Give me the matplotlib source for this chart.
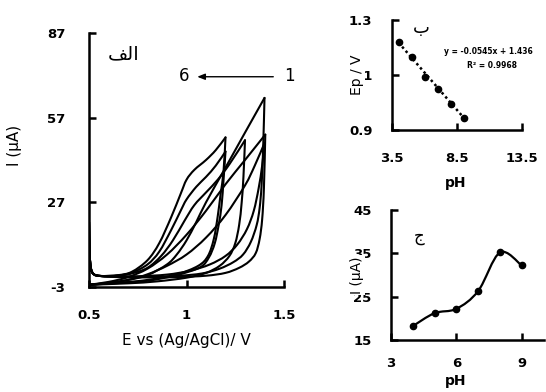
import numpy as np
import matplotlib
matplotlib.use("Agg")
import matplotlib.pyplot as plt
from matplotlib.path import Path
from matplotlib.patches import PathPatch

# ---------------- data ----------------
# common start of the anodic scans (charging spike at 0.5 V)
spike = [(0.5, 20.0), (0.503, 9.0), (0.51, 3.5), (0.525, 1.5), (0.56, 0.9)]

# curve 1 (vertex 1.2 V, 50 uA)
cv1_hump = [(0.65, 1.2), (0.72, 2.4), (0.8, 6.5), (0.86, 12.5), (0.92, 21.5), (0.97, 30.0),
            (1.0, 35.0), (1.04, 38.5), (1.1, 42.0), (1.15, 45.5), (1.2, 50.0)]
cv1_drop = [(1.2, 50.0), (1.19, 38.0), (1.175, 30.0), (1.16, 22.0), (1.14, 14.0), (1.11, 8.0),
            (1.06, 4.5), (0.95, 1.5), (0.8, -0.5), (0.65, -1.5), (0.5, -2.2)]
# curve 2 (vertex 1.2 V, 45 uA)
cv2_hump = [(0.65, 1.1), (0.72, 2.1), (0.8, 5.0), (0.86, 9.5), (0.92, 17.0), (0.97, 24.0),
            (1.0, 28.0), (1.05, 32.5), (1.1, 36.0), (1.15, 40.0), (1.2, 45.0)]
cv2_drop = [(1.2, 45.0), (1.19, 35.0), (1.18, 26.0), (1.165, 19.0), (1.145, 12.5), (1.115, 7.5),
            (1.07, 4.0), (0.95, 1.2), (0.8, -0.8), (0.65, -1.6), (0.5, -2.2)]
# curve 3 (vertex 1.3 V, 49 uA)
cv3_hump = [(0.65, 1.0), (0.72, 1.8), (0.8, 3.8), (0.87, 8.0), (0.93, 13.5), (0.99, 20.5),
            (1.04, 26.0), (1.1, 30.5), (1.16, 35.0), (1.22, 40.5), (1.3, 49.0)]
cv3_drop = [(1.3, 49.0), (1.292, 36.0), (1.283, 27.0), (1.27, 19.0), (1.25, 12.5), (1.22, 8.0),
            (1.17, 4.5), (1.1, 2.0), (1.0, 0.3), (0.85, -1.0), (0.7, -1.7), (0.5, -2.2)]
# curve 4 (vertex 1.4 V, 64 uA)
cv4_steep = [(0.65, 0.7), (0.8, 0.6), (0.95, 0.9), (1.08, 1.8), (1.17, 3.5), (1.24, 5.8), (1.29, 8.5),
             (1.33, 13.0), (1.36, 19.0), (1.375, 25.0), (1.385, 33.0), (1.393, 46.0), (1.4, 64.0)]
cv4_diag = [(1.4, 64.0), (1.3, 51.7), (1.2, 39.3), (1.1, 27.0), (1.05, 20.0), (1.0, 13.5),
            (0.95, 8.5), (0.9, 5.0), (0.8, 1.2), (0.7, -0.5), (0.6, -1.5), (0.5, -2.2)]
# curve 5 (vertex 1.404 V, 51 uA)
cv5_steep = [(0.65, 0.5), (0.8, 0.4), (0.95, 0.5), (1.1, 1.0), (1.2, 2.0), (1.27, 3.8), (1.32, 6.0),
             (1.355, 9.0), (1.375, 14.0), (1.388, 21.0), (1.397, 32.0), (1.404, 51.0)]
cv5_diag = [(1.404, 51.0), (1.3, 42.0), (1.2, 33.4), (1.1, 24.0), (1.0, 15.5), (0.9, 8.5),
            (0.8, 3.5), (0.7, 0.5), (0.6, -1.2), (0.5, -2.2)]
# curve 6 (vertex 1.4 V, 48 uA)
cv6_steep = [(0.6, 0.7), (0.75, 0.8), (0.9, 1.4), (1.02, 2.8), (1.12, 5.0), (1.2, 8.0), (1.26, 12.0),
             (1.31, 17.5), (1.345, 24.0), (1.37, 32.0), (1.388, 40.0), (1.4, 48.0)]
cv6_diag = [(1.4, 48.0), (1.35, 40.0), (1.3, 33.0), (1.2, 22.5), (1.1, 14.5), (1.0, 8.5),
            (0.9, 4.5), (0.8, 1.5), (0.7, -0.5), (0.6, -1.6), (0.5, -2.2)]

# Ep vs pH
ph_ep = [4, 5, 6, 7, 8, 9]
ep_vals = [1.219, 1.164, 1.092, 1.048, 0.993, 0.943]
fit_slope, fit_icpt = -0.0545, 1.436

# I vs pH
ph_i = [4, 5, 6, 7, 8, 9]
i_vals = [18.2, 21.2, 22.2, 26.3, 35.2, 32.2]

# ---------------- helpers ----------------
def smooth_path(pts):
    p = np.asarray(pts, float)
    n = len(p)
    verts = [p[0]]
    codes = [Path.MOVETO]
    for i in range(n - 1):
        p0 = p[i - 1] if i > 0 else p[i]
        p1 = p[i]
        p2 = p[i + 1]
        p3 = p[i + 2] if i + 2 < n else p[i + 1]
        c1 = p1 + (p2 - p0) / 6.0
        c2 = p2 - (p3 - p1) / 6.0
        verts += [c1, c2, p2]
        codes += [Path.CURVE4] * 3
    return Path(verts, codes)

def add_smooth(ax, pts, lw=1.5, color="black"):
    ax.add_patch(PathPatch(smooth_path(pts), fill=False, lw=lw, ec=color,
                           capstyle="round", joinstyle="round"))

W, H = 546, 392
def fx(x):
    return x / W
def fy(y):
    return 1 - y / H

TICKFONT = dict(family="DejaVu Sans", weight="bold", size=9.5)

def style_axes(ax):
    for s in ["top", "right"]:
        ax.spines[s].set_visible(False)
    for s in ["left", "bottom"]:
        ax.spines[s].set_linewidth(1.8)
    ax.tick_params(direction="in", length=5, width=1.8)
    for lab in ax.get_xticklabels() + ax.get_yticklabels():
        lab.set_fontfamily(TICKFONT["family"])
        lab.set_fontweight(TICKFONT["weight"])
        lab.set_fontsize(TICKFONT["size"])

WHITE = dict(facecolor="white", edgecolor="none", pad=1.0)

fig = plt.figure(figsize=(W / 100, H / 100), dpi=100)

# ---------------- left CV panel ----------------
ax1 = fig.add_axes([fx(89), fy(287), (284 - 89) / W, (287 - 33) / H])
ax1.set_xlim(0.5, 1.5)
ax1.set_ylim(-3, 87)
ax1.set_xticks([0.5, 1, 1.5])
ax1.set_xticklabels(["0.5", "1", "1.5"])
ax1.set_yticks([-3, 27, 57, 87])
ax1.set_yticklabels(["-3", "27", "57", "87"])
style_axes(ax1)
ax1.tick_params(axis="y", pad=17)
ax1.tick_params(axis="x", pad=16)

for hump in [cv1_hump, cv2_hump, cv3_hump]:
    add_smooth(ax1, spike + hump)
for drop in [cv1_drop, cv2_drop, cv3_drop]:
    add_smooth(ax1, drop)
for steep in [cv4_steep, cv5_steep, cv6_steep]:
    add_smooth(ax1, spike + steep)
for diag in [cv4_diag, cv5_diag, cv6_diag]:
    add_smooth(ax1, diag)

arabic_alef = "\uFED2\uFEDF\uFE8D"  # الف (shaped, visual order)
ax1.text(0.68, 79.6, arabic_alef, family="DejaVu Sans", fontsize=14, ha="center", va="center")
ax1.text(0.99, 71.8, "6", family="DejaVu Sans", fontsize=12, ha="center", va="center")
ax1.text(1.526, 71.8, "1", family="DejaVu Sans", fontsize=12, ha="center", va="center",
         clip_on=False)
ax1.annotate("", xy=(1.055, 71.5), xytext=(1.445, 71.5),
             arrowprops=dict(arrowstyle="-|>,head_length=0.45,head_width=0.18", lw=1.0,
                             color="black", shrinkA=0, shrinkB=0),
             annotation_clip=False)

fig.text(fx(15), fy(145), "I (\u03bcA)", rotation=90, ha="center", va="center",
         family="DejaVu Sans", fontsize=11)
fig.text(fx(186), fy(341), "E vs (Ag/AgCl)/ V", ha="center", va="center",
         family="DejaVu Sans", fontsize=11)

# ---------------- top-right Ep vs pH ----------------
ax2 = fig.add_axes([fx(392), fy(130), (522 - 392) / W, (130 - 20) / H])
ax2.set_xlim(3.5, 13.5)
ax2.set_ylim(0.9, 1.3)
ax2.set_xticks([3.5, 8.5, 13.5])
ax2.set_xticklabels(["3.5", "8.5", "13.5"])
ax2.set_yticks([0.9, 1.1, 1.3])
ax2.set_yticklabels(["0.9", "1.1", "1.3"])
style_axes(ax2)
ax2.tick_params(axis="y", pad=14)
ax2.tick_params(axis="x", pad=16)
fit_x = np.array([ph_ep[0], ph_ep[-1]], float)
ax2.plot(fit_x, fit_slope * fit_x + fit_icpt, ls=(0, (1, 1.2)), lw=1.8, color="black")
ax2.plot(ph_ep, ep_vals, "o", ms=4.5, color="black", clip_on=False)
ax2.text(10.88, 1.184, "y = -0.0545x + 1.436", family="DejaVu Sans", weight="bold",
         fontsize=5.5, ha="center", va="center", clip_on=False)
ax2.text(11.19, 1.133, "R\u00b2 = 0.9968", family="DejaVu Sans", weight="bold",
         fontsize=5.5, ha="center", va="center", clip_on=False)
ax2.text(5.73, 1.271, "\u0628", family="DejaVu Sans", fontsize=13, ha="center", va="center")
fig.text(fx(357), fy(75), "Ep / V", rotation=90, ha="center", va="center",
         family="DejaVu Sans", fontsize=10, bbox=WHITE, zorder=10)
fig.text(fx(456), fy(183), "pH", ha="center", va="center", family="DejaVu Sans",
         fontsize=10, weight="bold")

# ---------------- bottom-right I vs pH ----------------
ax3 = fig.add_axes([fx(391), fy(340), (543.5 - 391) / W, (340 - 210) / H])
ax3.set_xlim(3, 10)
ax3.set_ylim(15, 45)
ax3.set_xticks([3, 6, 9])
ax3.set_xticklabels(["3", "6", "9"])
ax3.set_yticks([15, 25, 35, 45])
ax3.set_yticklabels(["15", "25", "35", "45"])
style_axes(ax3)
ax3.tick_params(axis="y", pad=14)
ax3.tick_params(axis="x", pad=12)
add_smooth(ax3, list(zip(ph_i, i_vals)), lw=1.6)
ax3.plot(ph_i, i_vals, "o", ms=4.5, color="black", clip_on=False)
ax3.text(4.28, 39.0, "\u062c", family="DejaVu Sans", fontsize=12, ha="center", va="center")
fig.text(fx(357), fy(275), "I (\u03bcA)", rotation=90, ha="center", va="center",
         family="DejaVu Sans", fontsize=10, bbox=WHITE, zorder=10)
fig.text(fx(456), fy(381), "pH", ha="center", va="center", family="DejaVu Sans",
         fontsize=10, weight="bold")

fig.savefig("out.png", dpi=100)
